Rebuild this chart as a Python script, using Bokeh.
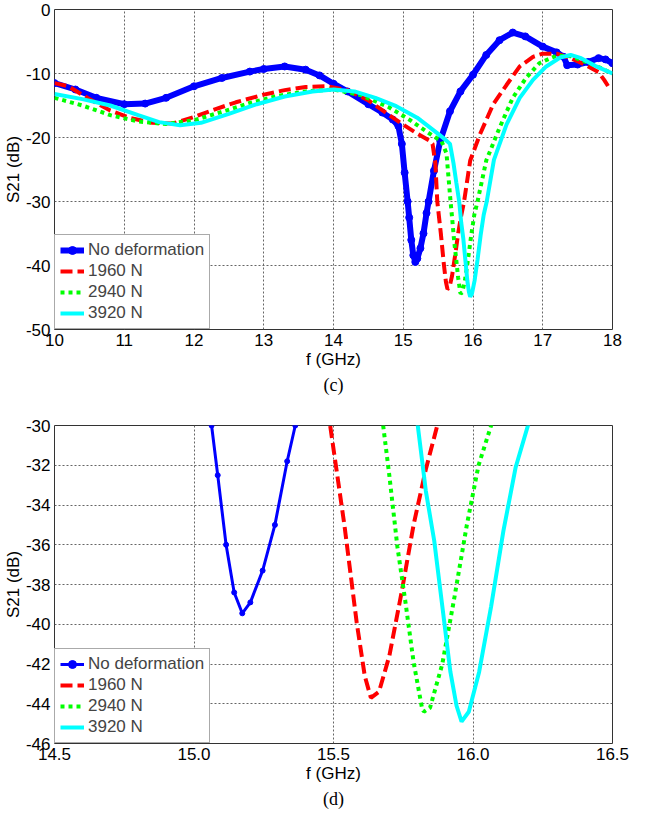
from bokeh.plotting import figure
from bokeh.models import Range1d, FixedTicker, Legend, LegendItem, Title
from bokeh.layouts import column
from bokeh.embed import file_html
from bokeh.resources import INLINE

# ---------------- data ----------------
freq_nodef = [10.0, 10.3, 10.6, 11.0, 11.3, 11.6, 12.0, 12.4, 12.8, 13.0, 13.3, 13.6, 13.8,
              14.0, 14.2, 14.5, 14.7, 14.85, 14.93, 14.98, 15.02, 15.063, 15.085, 15.115,
              15.144, 15.173, 15.202, 15.246, 15.29, 15.334, 15.363, 15.44, 15.53, 15.67,
              15.82, 16.0, 16.19, 16.38, 16.57, 16.75, 17.0, 17.2, 17.3, 17.35, 17.5, 17.65,
              17.8, 17.9, 18.0]
s21_nodef = [-11.5, -12.5, -13.8, -14.8, -14.7, -13.8, -12.0, -10.7, -9.7, -9.3, -8.9, -9.4, -10.3,
             -11.6, -12.8, -14.8, -16.1, -17.2, -18.2, -21.0, -25.5, -30.0, -32.5, -36.0,
             -38.4, -39.45, -38.9, -37.3, -35.0, -31.8, -30.0, -25.2, -20.5, -15.9,
             -12.8, -10.2, -7.1, -4.8, -3.6, -4.2, -5.8, -6.7, -7.4, -8.7, -8.6, -8.2,
             -7.6, -7.8, -8.4]

freq_1960 = [10.0, 10.2, 10.5, 10.8, 11.1, 11.4, 11.7, 12.0, 12.3, 12.6, 13.0, 13.3, 13.6, 13.9,
             14.2, 14.5, 14.8, 15.0, 15.2, 15.38, 15.42, 15.46, 15.488, 15.539, 15.583, 15.612,
             15.634, 15.663, 15.70, 15.744, 15.787, 15.831, 15.872, 15.96, 16.1, 16.29, 16.48,
             16.67, 16.86, 17.0, 17.2, 17.4, 17.6, 17.8, 17.88, 17.95]
s21_1960 = [-11.5, -12.0, -14.0, -15.8, -17.0, -17.7, -17.8, -16.8, -15.6, -14.5, -13.3, -12.6, -12.1, -12.0,
            -12.6, -14.2, -16.5, -18.0, -19.4, -20.5, -21.0, -24.0, -30.0, -35.0, -39.9, -42.6,
            -43.7, -43.4, -41.6, -38.4, -35.0, -32.2, -30.0, -23.6, -19.5, -14.8, -11.8,
            -8.9, -7.4, -6.9, -6.9, -7.6, -8.6, -9.8, -11.0, -12.2]

freq_2940 = [10.0, 10.4, 10.8, 11.2, 11.6, 12.0, 12.4, 12.8, 13.2, 13.6, 14.0, 14.4, 14.8, 15.1,
             15.35, 15.55, 15.62, 15.678, 15.70, 15.729, 15.758, 15.787, 15.817, 15.824, 15.846,
             15.89, 15.934, 15.978, 16.02, 16.065, 16.19, 16.38, 16.57, 16.76, 16.95, 17.2,
             17.4, 17.6, 17.8, 18.0]
s21_2940 = [-13.8, -15.0, -16.5, -17.5, -17.9, -17.3, -16.0, -14.6, -13.5, -12.8, -12.5, -13.4, -15.3, -17.3,
            -19.2, -20.6, -22.5, -30.0, -32.5, -36.1, -38.9, -41.9, -44.2, -44.4, -44.2,
            -42.0, -38.6, -35.0, -32.0, -30.0, -23.6, -18.5, -13.8, -10.7, -8.4, -7.2,
            -7.3, -8.1, -9.0, -10.0]

freq_3920 = [10.0, 10.4, 10.8, 11.2, 11.5, 11.8, 12.1, 12.5, 12.9, 13.3, 13.7, 14.0, 14.3, 14.6,
             14.9, 15.2, 15.45, 15.6, 15.67, 15.72, 15.76, 15.802, 15.831, 15.861, 15.89, 15.919,
             15.941, 15.959, 15.985, 16.022, 16.065, 16.109, 16.153, 16.197, 16.3, 16.48, 16.67,
             16.86, 17.05, 17.25, 17.4, 17.55, 17.75, 18.0]
s21_3920 = [-13.2, -14.0, -15.0, -16.5, -17.6, -18.1, -17.7, -16.3, -14.8, -13.6, -12.8, -12.5, -12.8, -13.8,
            -15.1, -16.9, -19.0, -20.3, -21.0, -24.0, -27.0, -30.0, -33.3, -35.8, -39.1, -42.4,
            -44.1, -44.9, -44.4, -42.4, -39.1, -35.3, -32.1, -30.0, -23.5, -18.0, -13.8,
            -11.0, -8.9, -7.5, -7.1, -7.6, -8.8, -10.0]

series_labels = ["No deformation", "1960 N", "2940 N", "3920 N"]

top_xticks = [10, 11, 12, 13, 14, 15, 16, 17, 18]
top_xtick_labels = ["10", "11", "12", "13", "14", "15", "16", "17", "18"]
top_yticks = [0, -10, -20, -30, -40, -50]
top_ytick_labels = ["0", "-10", "-20", "-30", "-40", "-50"]

bot_xticks = [14.5, 15.0, 15.5, 16.0, 16.5]
bot_xtick_labels = ["14.5", "15.0", "15.5", "16.0", "16.5"]
bot_yticks = [-30, -32, -34, -36, -38, -40, -42, -44, -46]
bot_ytick_labels = ["-30", "-32", "-34", "-36", "-38", "-40", "-42", "-44", "-46"]

FONT = "Liberation Sans"


def make_fig(xr, yr, xt, xtl, yt, ytl, caption, h, top_b, bot_b, blue_w, blue_size, line_w):
    p = figure(width=629, height=h,
               x_range=Range1d(*xr), y_range=Range1d(*yr),
               output_backend="svg", toolbar_location=None,
               min_border_left=50, min_border_right=17,
               min_border_top=top_b, min_border_bottom=bot_b)
    p.background_fill_color = "white"
    p.border_fill_color = "white"
    p.outline_line_color = "#333333"
    p.outline_line_width = 1

    for ax, ticks, labels in ((p.xaxis[0], xt, xtl), (p.yaxis[0], yt, ytl)):
        ax.ticker = FixedTicker(ticks=ticks)
        ax.major_label_overrides = {t: l for t, l in zip(ticks, labels)}
        ax.major_tick_line_color = None
        ax.major_tick_in = 0
        ax.major_tick_out = 0
        ax.minor_tick_line_color = None
        ax.minor_tick_in = 0
        ax.minor_tick_out = 0
        ax.axis_line_color = None
        ax.major_label_text_font = FONT
        ax.major_label_text_font_size = "17px"
        ax.major_label_text_color = "black"
        ax.axis_label_text_font = FONT
        ax.axis_label_text_font_size = "17px"
        ax.axis_label_text_font_style = "normal"
        ax.axis_label_text_color = "black"
    p.xaxis.axis_label = "f (GHz)"
    p.yaxis.axis_label = "S21 (dB)"
    p.xaxis.major_label_standoff = 4
    p.xaxis.axis_label_standoff = 1
    p.yaxis.major_label_standoff = 4
    p.yaxis.axis_label_standoff = 0

    for g in (p.xgrid[0], p.ygrid[0]):
        g.grid_line_color = "#666666"
        g.grid_line_dash = "2 2"
        g.grid_line_width = 1

    r0 = p.line(freq_nodef, s21_nodef, line_color="#0000FF", line_width=blue_w)
    r0m = p.scatter(freq_nodef, s21_nodef, marker="circle", size=blue_size,
                    fill_color="#0000FF", line_color="#0000FF")
    r1 = p.line(freq_1960, s21_1960, line_color="#FF0000", line_width=line_w,
                line_dash="12 5")
    r2 = p.line(freq_2940, s21_2940, line_color="#00FF00", line_width=line_w,
                line_dash="4 4")
    r3 = p.line(freq_3920, s21_3920, line_color="#00FFFF", line_width=line_w)

    legend = Legend(items=[
        LegendItem(label=series_labels[0], renderers=[r0, r0m]),
        LegendItem(label=series_labels[1], renderers=[r1]),
        LegendItem(label=series_labels[2], renderers=[r2]),
        LegendItem(label=series_labels[3], renderers=[r3]),
    ], location="bottom_left")
    legend.margin = 0
    legend.padding = 5
    legend.spacing = 1
    legend.label_text_font = FONT
    legend.label_text_font_size = "17px"
    legend.label_height = 20
    legend.glyph_height = 20
    legend.glyph_width = 24
    legend.label_standoff = 4
    legend.border_line_color = "#555555"
    legend.border_line_width = 1
    legend.background_fill_color = "white"
    legend.background_fill_alpha = 1.0
    p.add_layout(legend, "center")

    p.add_layout(Title(text=caption, align="center", text_font="Liberation Serif",
                       text_font_size="18px", text_font_style="normal",
                       text_color="black", standoff=2), "below")
    return p


p_top = make_fig((10, 18), (-50, 0), top_xticks, top_xtick_labels, top_yticks, top_ytick_labels,
                 "(c)", 395, 9, 66, 6, 7, 4)
p_bot = make_fig((14.5, 16.5), (-46, -30), bot_xticks, bot_xtick_labels, bot_yticks, bot_ytick_labels,
                 "(d)", 414, 30, 62, 3, 5, 4)

layout = column(p_top, p_bot, spacing=0)
open("out.html", "w").write(file_html(layout, INLINE))
